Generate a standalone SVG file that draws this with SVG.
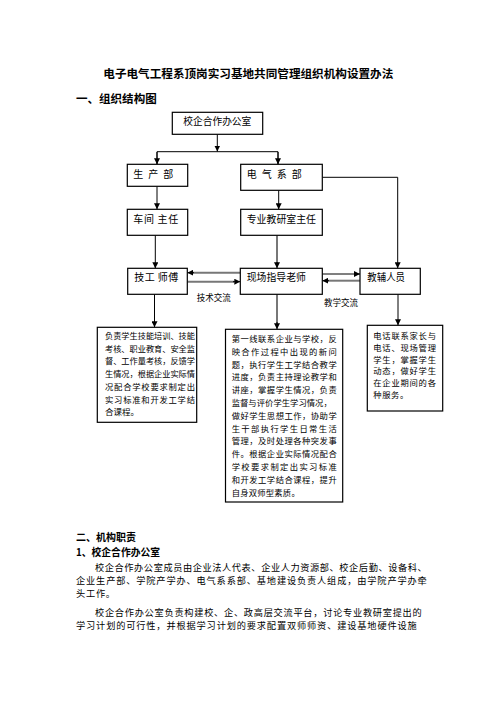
<svg xmlns="http://www.w3.org/2000/svg" width="496" height="702" viewBox="0 0 496 702">
<defs>
<style>
.t{font-family:"Noto Sans CJK SC","Noto Sans",sans-serif;fill:#000}
.b{font-weight:bold}
.box{fill:#fff;stroke:#000;stroke-width:1.2}
.ln{fill:none;stroke:#000;stroke-width:1}
.gl{fill:none;stroke:#777;stroke-width:2}
.lab{font-size:10px}
.d{font-size:8.3px}
.p{font-size:9.2px}
</style>
<marker id="ah" viewBox="0 0 10 10" refX="10" refY="5" markerWidth="6" markerHeight="6" markerUnits="userSpaceOnUse" orient="auto">
<path d="M0,0 L10,5 L0,10 z" fill="#000"/>
</marker>
</defs>
<rect width="496" height="702" fill="#fff"/>

<text class="t b" x="103.3" y="78" font-size="11.6" textLength="290" lengthAdjust="spacingAndGlyphs">电子电气工程系顶岗实习基地共同管理组织机构设置办法</text>
<text class="t b" x="76" y="103.3" font-size="11.5" textLength="80.7" lengthAdjust="spacingAndGlyphs">一、组织结构图</text>

<g id="connectors">
<line class="ln" x1="217.3" y1="134.3" x2="217.3" y2="151.5" marker-end="url(#ah)"/>
<polyline class="ln" points="157,164.3 157,151.7 278,151.7 278,164.3"/>
<line class="ln" x1="157" y1="152" x2="157" y2="164.3" marker-end="url(#ah)"/>
<line class="ln" x1="278" y1="152" x2="278" y2="164.3" marker-end="url(#ah)"/>
<line class="ln" x1="157" y1="186.3" x2="157" y2="209.3" marker-end="url(#ah)"/>
<line class="ln" x1="278.7" y1="190.3" x2="278.7" y2="209.3" marker-end="url(#ah)"/>
<polyline class="ln" points="322.3,177.3 397.7,177.3 397.7,268.3" marker-end="url(#ah)"/>
<line class="ln" x1="155.3" y1="235.3" x2="155.3" y2="268.3" marker-end="url(#ah)"/>
<line class="gl" x1="277" y1="235.3" x2="277" y2="263"/>
<line class="ln" x1="277" y1="262" x2="277" y2="268.3" marker-end="url(#ah)"/>
<line class="ln" x1="154.5" y1="294.3" x2="154.5" y2="327.3" marker-end="url(#ah)"/>
<line class="gl" x1="277" y1="294.3" x2="277" y2="324"/>
<line class="ln" x1="277" y1="322" x2="277" y2="329.3" marker-end="url(#ah)"/>
<line class="ln" x1="398" y1="294.3" x2="398" y2="325.3" marker-end="url(#ah)"/>
<line class="gl" x1="240.3" y1="272.7" x2="193" y2="272.7"/>
<line class="ln" x1="194" y1="272.7" x2="187.3" y2="272.7" marker-end="url(#ah)"/>
<line class="gl" x1="187.3" y1="281.7" x2="234" y2="281.7"/>
<line class="ln" x1="233" y1="281.7" x2="240.3" y2="281.7" marker-end="url(#ah)"/>
<line class="ln" x1="322.3" y1="274" x2="360" y2="274" marker-end="url(#ah)"/>
<line class="gl" x1="360" y1="280.7" x2="328" y2="280.7"/>
<line class="ln" x1="329" y1="280.7" x2="322.3" y2="280.7" marker-end="url(#ah)"/>
<text class="t" x="196.7" y="300.8" font-size="9" textLength="34" lengthAdjust="spacingAndGlyphs">技术交流</text>
<text class="t" x="324" y="305.8" font-size="9" textLength="34" lengthAdjust="spacingAndGlyphs">教学交流</text>
</g>

<g id="n-office">
<rect class="box" x="172.3" y="112.3" width="90.4" height="22"/>
<text class="t lab" x="183.3" y="125.3" textLength="68" lengthAdjust="spacingAndGlyphs">校企合作办公室</text>
</g>
<g id="n-prod">
<rect class="box" x="127.3" y="164.3" width="60.4" height="22"/>
<text class="t lab" x="133.3" y="177.6" textLength="40" lengthAdjust="spacing">生 产 部</text>
</g>
<g id="n-dept">
<rect class="box" x="240.7" y="164.3" width="81.6" height="26"/>
<text class="t lab" x="246.7" y="177.6" textLength="55" lengthAdjust="spacing">电 气 系 部</text>
</g>
<g id="n-workshop">
<rect class="box" x="127.3" y="209.3" width="60.4" height="26"/>
<text class="t lab" x="133.3" y="222.9" textLength="45" lengthAdjust="spacing">车间 主任</text>
</g>
<g id="n-teach">
<rect class="box" x="240.7" y="209.3" width="81.6" height="26"/>
<text class="t lab" x="246.7" y="222.9" textLength="69.3" lengthAdjust="spacingAndGlyphs">专业教研室主任</text>
</g>
<g id="n-master">
<rect class="box" x="127.7" y="268.3" width="59.6" height="26"/>
<text class="t lab" x="134.3" y="281.3" textLength="44" lengthAdjust="spacing">技工 师傅</text>
</g>
<g id="n-guide">
<rect class="box" x="240.3" y="268.3" width="82" height="26"/>
<text class="t lab" x="246.7" y="281.3" textLength="59.3" lengthAdjust="spacingAndGlyphs">现场指导老师</text>
</g>
<g id="n-aux">
<rect class="box" x="360" y="268.3" width="60.3" height="26"/>
<text class="t lab" x="367.3" y="281.3" textLength="37.7" lengthAdjust="spacingAndGlyphs">教辅人员</text>
</g>

<g id="d-master">
<rect class="box" x="97.3" y="327.3" width="99.4" height="95"/>
<g class="t d">
<text x="105" y="339" textLength="90" lengthAdjust="spacingAndGlyphs">负责学生技能培训、技能</text>
<text x="105" y="351.7" textLength="90" lengthAdjust="spacingAndGlyphs">考核、职业教育、安全监</text>
<text x="105" y="364.4" textLength="90" lengthAdjust="spacingAndGlyphs">督、工作量考核，反馈学</text>
<text x="105" y="377.1" textLength="90" lengthAdjust="spacingAndGlyphs">生情况，根据企业实际情</text>
<text x="105" y="389.8" textLength="90" lengthAdjust="spacing">况配合学校要求制定出</text>
<text x="105" y="402.5" textLength="90" lengthAdjust="spacing">实习标准和开发工学结</text>
<text x="105" y="415.2" textLength="34" lengthAdjust="spacingAndGlyphs">合课程。</text>
</g>
</g>

<g id="d-guide">
<rect class="box" x="225.5" y="329.3" width="117.2" height="172.7"/>
<g class="t d" font-size="8.7">
<text x="231.7" y="342" textLength="105" lengthAdjust="spacing">第一线联系企业与学校，反</text>
<text x="231.7" y="354.8" textLength="105" lengthAdjust="spacing">映合作过程中出现的新问</text>
<text x="231.7" y="367.6" textLength="105" lengthAdjust="spacing">题，执行学生工学结合教学</text>
<text x="231.7" y="380.4" textLength="105" lengthAdjust="spacing">进度，负责主持理论教学和</text>
<text x="231.7" y="393.2" textLength="105" lengthAdjust="spacing">讲座，掌握学生情况，负责</text>
<text x="231.7" y="406" textLength="100" lengthAdjust="spacing">监督与评价学生学习情况，</text>
<text x="231.7" y="418.8" textLength="105" lengthAdjust="spacing">做好学生思想工作，协助学</text>
<text x="231.7" y="431.6" textLength="105" lengthAdjust="spacing">生干部执行学生日常生活</text>
<text x="231.7" y="444.4" textLength="105" lengthAdjust="spacing">管理，及时处理各种突发事</text>
<text x="231.7" y="457.2" textLength="105" lengthAdjust="spacing">件。根据企业实际情况配合</text>
<text x="231.7" y="470" textLength="105" lengthAdjust="spacing">学校要求制定出实习标准</text>
<text x="231.7" y="482.8" textLength="105" lengthAdjust="spacing">和开发工学结合课程，提升</text>
<text x="231.7" y="495.6" textLength="68" lengthAdjust="spacing">自身双师型素质。</text>
</g>
</g>

<g id="d-aux">
<rect class="box" x="367.3" y="325.3" width="75.4" height="85.7"/>
<g class="t d" font-size="8.6">
<text x="373.3" y="338.7" textLength="62.7" lengthAdjust="spacing">电话联系家长与</text>
<text x="373.3" y="350.6" textLength="62.7" lengthAdjust="spacing">电话、现场管理</text>
<text x="373.3" y="362.5" textLength="62.7" lengthAdjust="spacing">学生，掌握学生</text>
<text x="373.3" y="374.4" textLength="62.7" lengthAdjust="spacing">动态，做好学生</text>
<text x="373.3" y="386.3" textLength="62.7" lengthAdjust="spacing">在企业期间的各</text>
<text x="373.3" y="398.2" textLength="35" lengthAdjust="spacing">种服务。</text>
</g>
</g>

<g id="body">
<text class="t b" x="76" y="540.5" font-size="10.5" textLength="60" lengthAdjust="spacingAndGlyphs">二、机构职责</text>
<text class="t b" x="76" y="555.5" font-size="10.5" textLength="84" lengthAdjust="spacingAndGlyphs">1、校企合作办公室</text>
<g class="t p">
<text x="95" y="570.7" textLength="331.7" lengthAdjust="spacing">校企合作办公室成员由企业法人代表、企业人力资源部、校企后勤、设备科、</text>
<text x="76" y="584.1" textLength="350.7" lengthAdjust="spacing">企业生产部、学院产学办、电气系系部、基地建设负责人组成，由学院产学办牵</text>
<text x="76" y="597.4" textLength="39" lengthAdjust="spacing">头工作。</text>
<text x="95" y="616.1" textLength="326.7" lengthAdjust="spacing">校企合作办公室负责构建校、企、政高层交流平台，讨论专业教研室提出的</text>
<text x="76" y="629.4" textLength="340.7" lengthAdjust="spacing">学习计划的可行性，并根据学习计划的要求配置双师师资、建设基地硬件设施</text>
</g>
</g>
</svg>
